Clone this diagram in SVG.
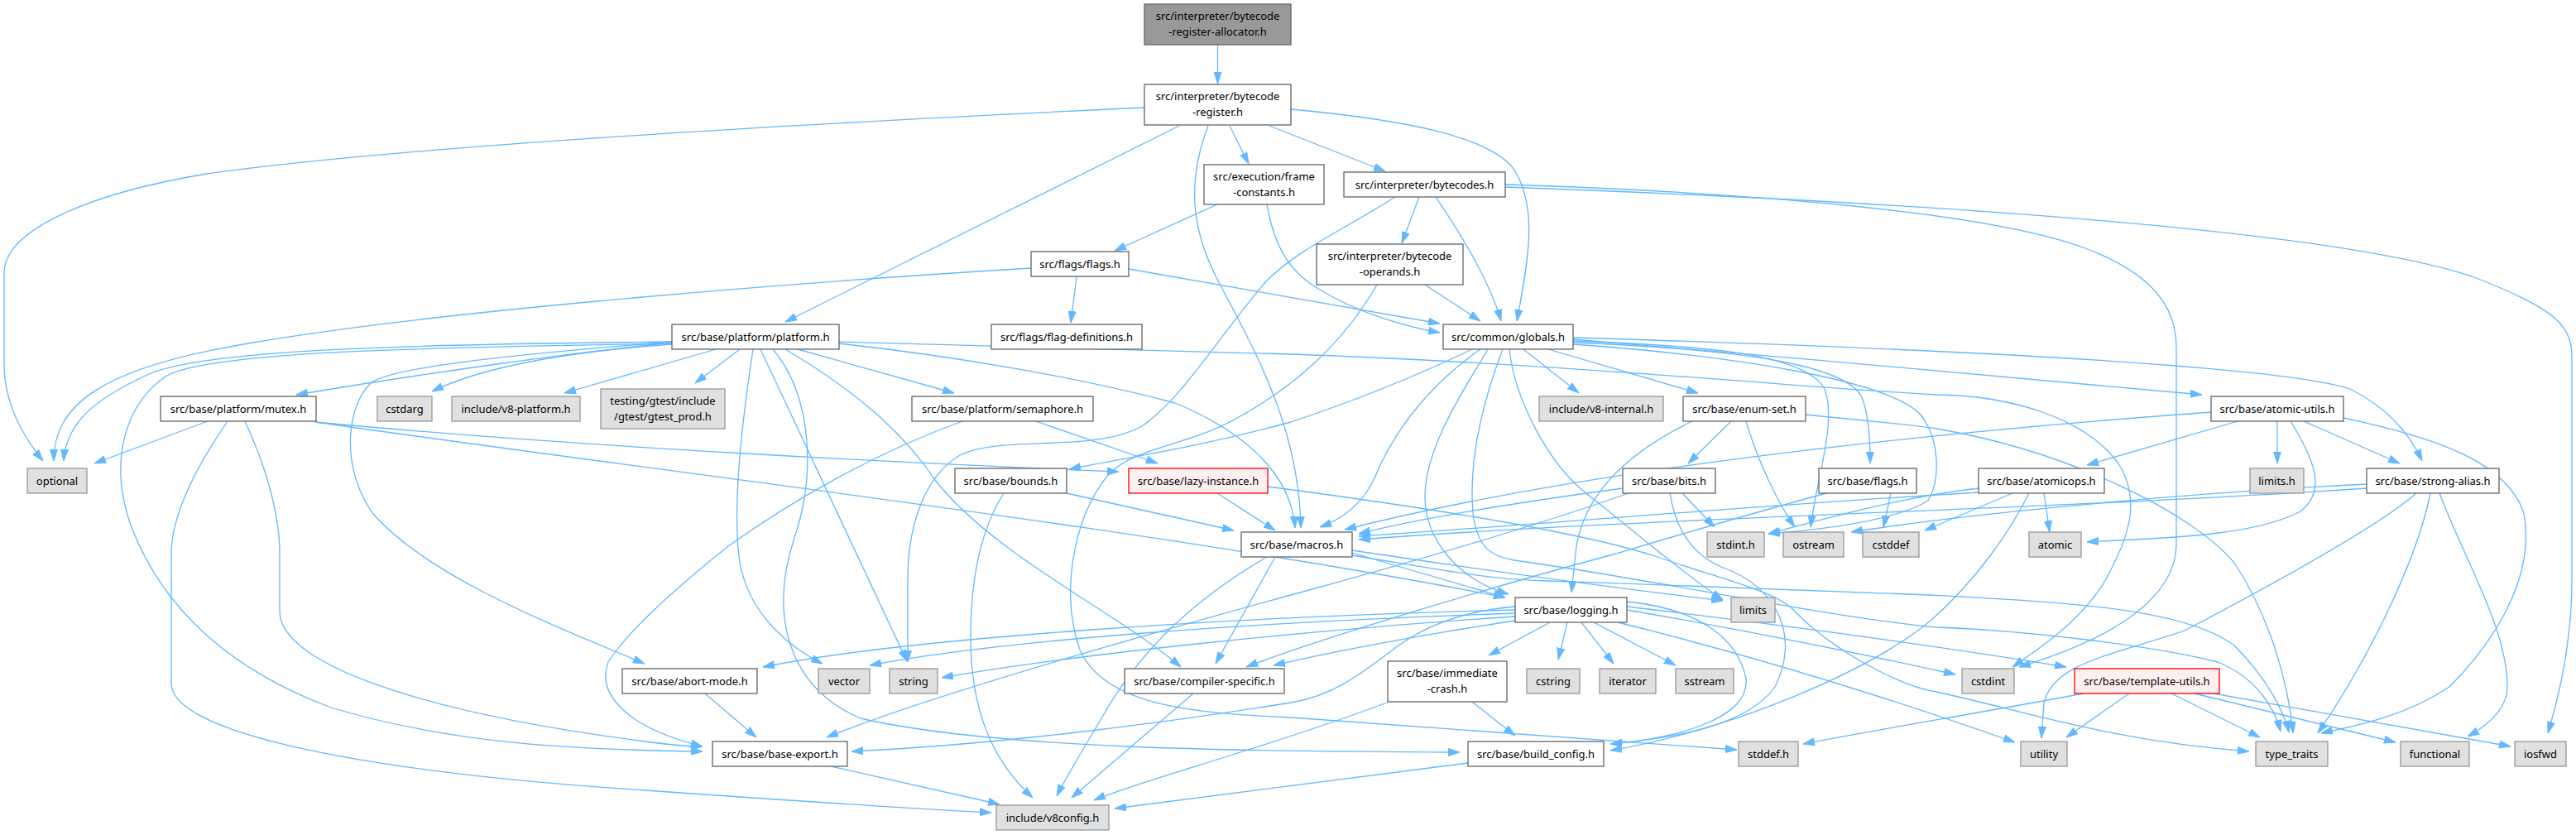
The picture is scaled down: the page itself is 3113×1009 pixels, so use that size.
<svg xmlns="http://www.w3.org/2000/svg" width="3113" height="1009" viewBox="0 0 3113 1009">
<style>
text{font-family:"Noto Sans","Liberation Sans",sans-serif;font-size:13px;text-anchor:middle;fill:#000}
.n rect{fill:#fff;stroke:#666;stroke-width:1.33}
.x rect{fill:#e0e0e0;stroke:#999;stroke-width:1.33}
.r rect{fill:#fff0f0;stroke:#f00;stroke-width:1.33}
.t rect{fill:#999;stroke:#666;stroke-width:1.33}
#edges path{fill:none;stroke:#63b8ff;stroke-width:1.3;marker-end:url(#a)}
</style>
<defs>
<marker id="a" viewBox="0 0 14 10" refX="14" refY="5" markerWidth="14" markerHeight="10" markerUnits="userSpaceOnUse" orient="auto"><path d="M0,0.5 L14,5 L0,9.5 z" fill="#63b8ff" stroke="#63b8ff"/></marker>
</defs>
<rect width="3113" height="1009" fill="#fff"/>
<g id="edges">
<path d="M1471.5,54 L1471.5,101"/>
<path d="M1383,130 C1000,148 500,175 250,210 C100,235 5,280 5,330 L5,440 C5,490 30,530 52,557"/>
<path d="M1425,152 L949,389"/>
<path d="M1460,152 C1430,230 1445,290 1475,345 C1520,430 1570,520 1572,638"/>
<path d="M1486,152 L1509,198"/>
<path d="M1534,152 L1674,207"/>
<path d="M1560,132 C1700,145 1800,165 1830,205 C1858,250 1848,310 1833,388"/>
<path d="M1471,247 L1347,303"/>
<path d="M1531,247 C1540,300 1560,330 1595,350 C1640,378 1700,395 1740,402"/>
<path d="M1715,238 L1694,294"/>
<path d="M1735,238 C1770,290 1800,340 1814,388"/>
<path d="M1686,238 C1620,280 1570,300 1530,340 C1470,410 1430,480 1380,515 C1320,548 1210,525 1160,550 C1110,580 1097,650 1097,700 L1097,800"/>
<path d="M1819,223 C2100,232 2400,255 2520,300 C2600,330 2630,370 2630,420 L2630,660 C2628,720 2560,770 2440,806"/>
<path d="M1819,226 C2200,240 2800,270 2990,335 C3080,370 3108,390 3108,430 L3108,700 C3108,780 3090,850 3079,886"/>
<path d="M1301,334 L1294,390"/>
<path d="M1364,325 L1740,391"/>
<path d="M1246,324 C900,345 500,380 300,415 C120,445 65,490 65,557"/>
<path d="M1722,344 L1789,388"/>
<path d="M1664,344 C1620,420 1560,470 1490,508 C1430,540 1370,540 1338,575 C1295,630 1282,720 1305,785 C1335,855 1450,862 1560,867 L2099,906"/>
<path d="M812,413 C500,416 250,422 180,452 C115,482 80,510 77,557"/>
<path d="M812,414 C700,425 520,450 358,477"/>
<path d="M812,416 C700,424 590,440 522,473"/>
<path d="M865,422 L682,475"/>
<path d="M894,422 L840,463"/>
<path d="M964,422 L1153,475"/>
<path d="M1014,415 C1150,430 1300,455 1420,487 C1500,520 1560,570 1565,638"/>
<path d="M1014,413 C1300,420 1500,427 1560,428 C1900,440 2200,470 2340,477 C2430,478 2520,505 2560,560 C2585,600 2575,640 2555,680 C2530,740 2470,780 2432,806"/>
<path d="M812,415 C500,420 250,425 200,455 C150,490 130,560 160,640 C200,740 280,810 400,855 C550,900 700,906 849,908"/>
<path d="M812,413 C600,430 470,445 448,463 C420,490 410,560 450,620 C520,700 680,760 779,802"/>
<path d="M910,422 C895,520 885,620 894,680 C905,740 950,780 994,802"/>
<path d="M919,422 L1096,799"/>
<path d="M949,422 C1030,470 1090,520 1130,580 C1200,670 1350,740 1427,806"/>
<path d="M934,422 C975,470 990,560 960,650 C930,740 950,830 1040,868 C1200,905 1500,908 1764,909"/>
<path d="M251,509 L114,560"/>
<path d="M275,509 C240,560 207,620 207,669 L207,826 C207,880 400,930 780,955 C950,967 1100,977 1198,982"/>
<path d="M296,509 C320,560 338,620 338,669 L338,739 C338,800 500,860 780,896 C810,900 830,902 849,902"/>
<path d="M381,510 C800,570 1400,640 1819,722"/>
<path d="M381,510 C700,540 1100,560 1352,570"/>
<path d="M1163,509 C1050,550 950,610 880,660 C830,700 760,760 735,800 C720,840 760,880 849,902"/>
<path d="M1252,509 L1399,560"/>
<path d="M1841,422 L1908,475"/>
<path d="M1871,422 L2052,475"/>
<path d="M1789,422 C1720,470 1680,530 1660,580 C1645,610 1620,628 1595,637"/>
<path d="M1779,422 C1700,460 1620,490 1560,510 C1450,540 1350,555 1292,567"/>
<path d="M1798,422 C1770,470 1722,540 1722,600 C1722,650 1760,700 1823,718"/>
<path d="M1816,422 C1790,490 1775,560 1780,620 C1785,660 1800,672 1830,677 C2000,700 2200,745 2340,758 C2450,762 2600,780 2680,800 C2730,820 2750,860 2756,884"/>
<path d="M1824,422 C1830,480 1870,560 1918,597 C1960,630 2030,690 2082,725"/>
<path d="M1901,410 C2150,430 2450,458 2661,477"/>
<path d="M1901,408 C2300,420 2750,440 2840,470 C2880,490 2910,520 2927,557"/>
<path d="M1901,412 C2050,418 2180,425 2205,470 C2220,510 2195,580 2188,637"/>
<path d="M1901,414 C2100,422 2230,440 2250,480 C2258,500 2260,530 2260,560"/>
<path d="M1901,416 C2100,430 2280,460 2320,500 C2345,530 2345,580 2330,605 C2290,630 2200,640 2137,645"/>
<path d="M2045,509 C1960,550 1915,600 1905,660 L1899,716"/>
<path d="M2092,509 L2040,560"/>
<path d="M2110,509 C2125,560 2150,610 2169,637"/>
<path d="M2182,501 C2250,508 2300,512 2340,518 C2500,545 2650,620 2700,680 C2740,740 2765,820 2771,886"/>
<path d="M2672,498 C2300,525 1900,570 1625,640"/>
<path d="M2704,509 L2522,562"/>
<path d="M2752,509 L2752,560"/>
<path d="M2784,509 L2900,560"/>
<path d="M2768,509 C2800,560 2810,595 2780,618 C2720,650 2600,650 2522,655"/>
<path d="M2832,505 C2950,530 3030,560 3050,620 C3065,700 3010,780 2960,830 C2900,870 2830,880 2805,886"/>
<path d="M2470,596 L2477,643"/>
<path d="M2432,596 L2326,641"/>
<path d="M2452,596 C2430,640 2390,700 2333,750 C2260,810 2100,880 1946,907"/>
<path d="M2391,590 C2300,600 2200,628 2137,645"/>
<path d="M2391,595 C2100,612 1850,635 1642,648"/>
<path d="M1961,590 C1850,605 1720,625 1642,645"/>
<path d="M2033,596 L2072,637"/>
<path d="M1968,596 C1900,620 1760,665 1560,719 C1300,790 1100,850 999,891"/>
<path d="M2018,596 C2025,640 2045,670 2080,685 C2150,710 2175,770 2145,830 C2110,880 2010,893 1946,899"/>
<path d="M2285,596 L2276,637"/>
<path d="M2207,596 C2100,625 2000,655 1953,669 C1800,710 1600,770 1506,806"/>
<path d="M2860,590 C2500,615 2000,625 1642,652"/>
<path d="M2920,596 C2870,640 2720,720 2640,762 C2560,790 2480,800 2470,850 L2467,892"/>
<path d="M2937,596 C2920,680 2860,800 2801,886"/>
<path d="M2948,596 C2980,680 3030,760 3030,830 C3030,860 3000,880 2982,890"/>
<path d="M2860,585 C2600,598 2350,625 2237,643"/>
<path d="M1634,668 L1819,722"/>
<path d="M1634,665 C1800,690 1950,710 2082,726"/>
<path d="M1634,671 C1750,690 1800,700 1870,702 C2050,708 2250,715 2333,719 C2500,728 2640,735 2700,780 C2740,820 2760,860 2766,885"/>
<path d="M1531,673 C1450,720 1380,780 1330,870 C1300,920 1285,945 1277,962"/>
<path d="M1541,673 L1469,802"/>
<path d="M1873,752 L1799,792"/>
<path d="M1894,752 L1883,797"/>
<path d="M1911,752 L1950,802"/>
<path d="M1926,752 L2025,804"/>
<path d="M1831,737 C1500,745 1100,770 922,806"/>
<path d="M1831,741 C1500,752 1200,775 1051,804"/>
<path d="M1831,745 C1600,760 1300,790 1138,819"/>
<path d="M1831,750 C1700,770 1600,790 1539,804"/>
<path d="M1831,733 C1770,738 1725,755 1690,780 C1650,810 1615,840 1560,849 C1400,875 1200,900 1029,908"/>
<path d="M1966,727 C2050,735 2100,770 2110,820 C2115,870 2020,893 1946,899"/>
<path d="M1966,737 C2100,760 2250,790 2363,815"/>
<path d="M1966,733 C2200,760 2400,790 2497,806"/>
<path d="M1955,752 C2150,800 2330,860 2435,897"/>
<path d="M1532,588 C1700,610 1900,640 2000,672 C2080,700 2150,715 2170,740 C2220,790 2300,830 2340,836 C2450,860 2550,895 2718,908"/>
<path d="M1779,848 L1831,889"/>
<path d="M1679,848 C1620,870 1560,890 1480,915 C1400,940 1350,955 1322,967"/>
<path d="M2573,838 L2497,891"/>
<path d="M2624,838 L2731,891"/>
<path d="M2652,838 L2895,897"/>
<path d="M2675,838 L3034,902"/>
<path d="M2518,838 C2400,860 2250,885 2179,899"/>
<path d="M1004,926 L1208,972"/>
<path d="M1774,922 C1600,945 1450,965 1347,977"/>
<path d="M1213,596 C1185,640 1173,700 1173,770 C1173,860 1200,920 1248,964"/>
<path d="M1289,596 L1491,641"/>
<path d="M1471,596 L1541,641"/>
<path d="M1442,838 L1295,964"/>
<path d="M852,838 L914,891"/>
</g>
<g id="n1" class="t"><rect x="1383" y="5" width="177" height="49"/><text x="1471.5" y="24">src/interpreter/bytecode</text><text x="1471.5" y="42.5">-register-allocator.h</text></g>
<g id="n2" class="n"><rect x="1383" y="102" width="177" height="49"/><text x="1471.5" y="121">src/interpreter/bytecode</text><text x="1471.5" y="139.5">-register.h</text></g>
<g id="n3" class="n"><rect x="1455" y="199" width="145" height="48"/><text x="1527.5" y="218">src/execution/frame</text><text x="1527.5" y="236.5">-constants.h</text></g>
<g id="n4" class="n"><rect x="1624" y="208" width="195" height="30"/><text x="1721.5" y="227.5">src/interpreter/bytecodes.h</text></g>
<g id="n5" class="n"><rect x="1246" y="304" width="118" height="30"/><text x="1305" y="323.5">src/flags/flags.h</text></g>
<g id="n6" class="n"><rect x="1591" y="295" width="177" height="49"/><text x="1679.5" y="314">src/interpreter/bytecode</text><text x="1679.5" y="332.5">-operands.h</text></g>
<g id="n7" class="n"><rect x="812" y="392" width="202" height="30"/><text x="913" y="411.5">src/base/platform/platform.h</text></g>
<g id="n8" class="n"><rect x="1198" y="392" width="182" height="30"/><text x="1289" y="411.5">src/flags/flag-definitions.h</text></g>
<g id="n9" class="n"><rect x="1744" y="392" width="157" height="30"/><text x="1822.5" y="411.5">src/common/globals.h</text></g>
<g id="n10" class="n"><rect x="194" y="479" width="188" height="30"/><text x="288" y="498.5">src/base/platform/mutex.h</text></g>
<g id="n11" class="x"><rect x="456" y="479" width="66" height="30"/><text x="489" y="498.5">cstdarg</text></g>
<g id="n12" class="x"><rect x="546" y="479" width="155" height="30"/><text x="623.5" y="498.5">include/v8-platform.h</text></g>
<g id="n13" class="x"><rect x="726" y="470" width="150" height="48"/><text x="801" y="489">testing/gtest/include</text><text x="801" y="507.5">/gtest/gtest_prod.h</text></g>
<g id="n14" class="n"><rect x="1102" y="479" width="219" height="30"/><text x="1211.5" y="498.5">src/base/platform/semaphore.h</text></g>
<g id="n15" class="x"><rect x="1860" y="479" width="150" height="30"/><text x="1935" y="498.5">include/v8-internal.h</text></g>
<g id="n16" class="n"><rect x="2034" y="479" width="148" height="30"/><text x="2108" y="498.5">src/base/enum-set.h</text></g>
<g id="n17" class="n"><rect x="2672" y="479" width="160" height="30"/><text x="2752" y="498.5">src/base/atomic-utils.h</text></g>
<g id="n18" class="x"><rect x="33" y="566" width="72" height="30"/><text x="69" y="585.5">optional</text></g>
<g id="n19" class="n"><rect x="1154" y="566" width="135" height="30"/><text x="1221.5" y="585.5">src/base/bounds.h</text></g>
<g id="n20" class="r"><rect x="1364" y="566" width="168" height="30"/><text x="1448" y="585.5">src/base/lazy-instance.h</text></g>
<g id="n21" class="n"><rect x="1961" y="566" width="112" height="30"/><text x="2017" y="585.5">src/base/bits.h</text></g>
<g id="n22" class="n"><rect x="2198" y="566" width="118" height="30"/><text x="2257" y="585.5">src/base/flags.h</text></g>
<g id="n23" class="n"><rect x="2391" y="566" width="152" height="30"/><text x="2467" y="585.5">src/base/atomicops.h</text></g>
<g id="n24" class="x"><rect x="2719" y="566" width="65" height="30"/><text x="2751.5" y="585.5">limits.h</text></g>
<g id="n25" class="n"><rect x="2860" y="566" width="160" height="30"/><text x="2940" y="585.5">src/base/strong-alias.h</text></g>
<g id="n26" class="n"><rect x="1500" y="643" width="134" height="30"/><text x="1567" y="662.5">src/base/macros.h</text></g>
<g id="n27" class="x"><rect x="2063" y="643" width="69" height="30"/><text x="2097.5" y="662.5">stdint.h</text></g>
<g id="n28" class="x"><rect x="2155" y="643" width="73" height="30"/><text x="2191.5" y="662.5">ostream</text></g>
<g id="n29" class="x"><rect x="2251" y="643" width="68" height="30"/><text x="2285" y="662.5">cstddef</text></g>
<g id="n30" class="x"><rect x="2452" y="643" width="63" height="30"/><text x="2483.5" y="662.5">atomic</text></g>
<g id="n31" class="n"><rect x="1831" y="722" width="135" height="30"/><text x="1898.5" y="741.5">src/base/logging.h</text></g>
<g id="n32" class="x"><rect x="2092" y="722" width="53" height="30"/><text x="2118.5" y="741.5">limits</text></g>
<g id="n33" class="n"><rect x="752" y="808" width="163" height="30"/><text x="833.5" y="827.5">src/base/abort-mode.h</text></g>
<g id="n34" class="x"><rect x="989" y="808" width="62" height="30"/><text x="1020" y="827.5">vector</text></g>
<g id="n35" class="x"><rect x="1075" y="808" width="58" height="30"/><text x="1104" y="827.5">string</text></g>
<g id="n36" class="n"><rect x="1359" y="808" width="193" height="30"/><text x="1455.5" y="827.5">src/base/compiler-specific.h</text></g>
<g id="n37" class="n"><rect x="1677" y="799" width="144" height="49"/><text x="1749" y="818">src/base/immediate</text><text x="1749" y="836.5">-crash.h</text></g>
<g id="n38" class="x"><rect x="1845" y="808" width="64" height="30"/><text x="1877" y="827.5">cstring</text></g>
<g id="n39" class="x"><rect x="1933" y="808" width="68" height="30"/><text x="1967" y="827.5">iterator</text></g>
<g id="n40" class="x"><rect x="2025" y="808" width="70" height="30"/><text x="2060" y="827.5">sstream</text></g>
<g id="n41" class="x"><rect x="2371" y="808" width="63" height="30"/><text x="2402.5" y="827.5">cstdint</text></g>
<g id="n42" class="r"><rect x="2507" y="808" width="175" height="30"/><text x="2594.5" y="827.5">src/base/template-utils.h</text></g>
<g id="n43" class="n"><rect x="861" y="896" width="163" height="30"/><text x="942.5" y="915.5">src/base/base-export.h</text></g>
<g id="n44" class="n"><rect x="1774" y="896" width="164" height="30"/><text x="1856" y="915.5">src/base/build_config.h</text></g>
<g id="n45" class="x"><rect x="2101" y="896" width="72" height="30"/><text x="2137" y="915.5">stddef.h</text></g>
<g id="n46" class="x"><rect x="2442" y="896" width="56" height="30"/><text x="2470" y="915.5">utility</text></g>
<g id="n47" class="x"><rect x="2726" y="896" width="87" height="30"/><text x="2769.5" y="915.5">type_traits</text></g>
<g id="n48" class="x"><rect x="2901" y="896" width="83" height="30"/><text x="2942.5" y="915.5">functional</text></g>
<g id="n49" class="x"><rect x="3039" y="896" width="62" height="30"/><text x="3070" y="915.5">iosfwd</text></g>
<g id="n50" class="x"><rect x="1204" y="973" width="136" height="30"/><text x="1272" y="992.5">include/v8config.h</text></g>
</svg>
